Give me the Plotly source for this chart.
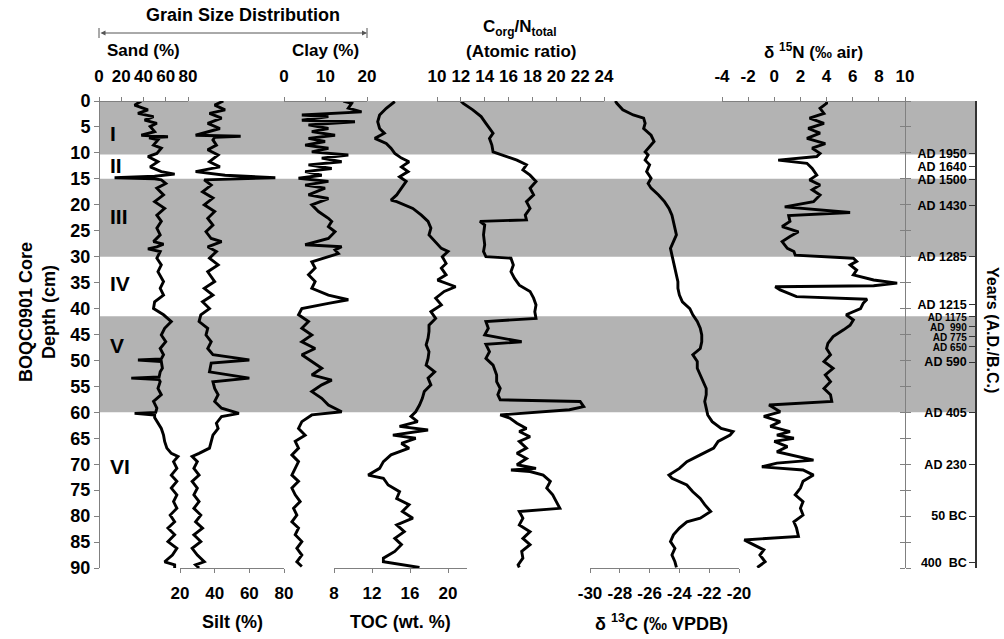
import plotly.graph_objects as go

# ---------------- data (depth in cm) ----------------
sand_depth = [0.0, 0.8, 1.7, 2.4, 3.0, 3.7, 4.3, 4.9, 5.9, 6.6, 6.9, 7.1, 7.5, 8.5, 9.1, 10.1, 10.7, 11.7, 12.7, 13.6,
              14.1, 14.5, 14.8, 15.0, 15.2, 15.9, 16.8, 18.1, 19.4, 20.7, 22.0, 23.2, 24.5, 25.8, 27.1, 27.6, 28.1, 28.5,
              29.0, 30.3, 31.6, 32.9, 34.8, 36.1, 37.4, 38.7, 40.0, 41.2, 42.5, 43.8, 45.1, 46.4, 47.7, 48.9, 49.7, 49.9,
              50.2, 51.5, 52.2, 53.2, 53.4, 53.7, 54.1, 55.4, 56.6, 57.9, 59.2, 60.0, 60.2, 60.5, 61.0, 62.1, 63.1, 64.4,
              65.6, 66.9, 67.9, 68.5, 69.5, 70.8, 72.1, 73.3, 74.6, 75.9, 77.2, 78.5, 79.8, 81.1, 82.3, 83.6, 84.9, 86.2,
              87.5, 88.8, 89.4, 90.0]
sand_pct = [38, 32, 44, 35, 49, 41, 52, 46, 50, 38, 62, 45, 53, 49, 56, 52, 44, 53, 46, 56,
            68, 50, 14, 50, 56, 60, 52, 58, 50, 59, 52, 56, 52, 55, 49, 58, 52, 44,
            55, 52, 56, 53, 58, 55, 58, 50, 49, 58, 65, 59, 56, 60, 55, 58, 56, 35,
            56, 57, 55, 54, 29, 54, 55, 53, 56, 49, 52, 51, 32, 50, 50, 53, 56, 58,
            59, 61, 65, 71, 67, 70, 65, 70, 65, 70, 67, 70, 64, 68, 62, 68, 62, 70,
            66, 59, 68, 68]

silt_depth = [0.0, 0.8, 1.7, 2.4, 3.3, 4.3, 5.3, 6.6, 6.8, 7.0, 7.5, 8.5, 9.4, 10.4, 11.7, 12.7, 13.6, 14.3, 14.8, 15.2,
              16.2, 17.5, 18.7, 20.0, 21.3, 22.6, 23.9, 25.2, 26.5, 27.1, 28.1, 29.0, 30.3, 31.6, 32.9, 34.8, 36.1, 37.4,
              38.7, 40.0, 41.2, 42.5, 43.8, 45.1, 46.4, 47.7, 48.9, 49.9, 50.5, 52.2, 53.4, 54.1, 55.4, 56.6, 57.9, 59.2,
              60.2, 60.8, 62.1, 63.1, 64.4, 65.6, 66.9, 67.9, 68.5, 69.5, 70.8, 72.1, 73.3, 74.6, 75.9, 77.2, 78.5, 79.8,
              81.1, 82.3, 83.6, 84.9, 86.2, 87.5, 88.8, 89.4, 90.0]
silt_pct = [45, 40, 46, 37, 44, 36, 43, 29, 55, 40, 39, 41, 36, 42, 37, 43, 29, 46, 75, 34,
            38, 33, 39, 34, 40, 36, 39, 35, 38, 44, 36, 41, 37, 42, 36, 40, 34, 39,
            33, 37, 32, 31, 36, 35, 38, 36, 39, 60, 38, 37, 60, 39, 40, 42, 40, 44,
            54, 44, 41, 42, 39, 38, 37, 31, 27, 30, 28, 31, 27, 30, 28, 31, 28, 32,
            29, 33, 28, 32, 27, 30, 34, 29, 31]

clay_depth = [0.0, 0.45, 1.4, 2.1, 2.7, 3.0, 3.7, 4.0, 4.6, 5.3, 5.9, 6.6, 7.2, 7.8, 8.5, 9.1, 9.8, 10.4, 11.0, 11.7,
              12.3, 13.0, 13.6, 14.3, 14.9, 15.5, 16.2, 16.8, 18.1, 18.8, 20.0, 21.3, 22.6, 23.2, 24.2, 25.2, 26.5, 27.7,
              28.1, 28.7, 29.4, 30.0, 31.0, 32.2, 33.5, 34.8, 36.1, 37.4, 38.3, 39.0, 40.0, 41.2, 42.5, 43.8, 45.1, 46.4,
              47.7, 48.9, 50.2, 51.5, 52.8, 53.8, 54.7, 56.0, 57.3, 58.6, 59.9, 60.5, 61.8, 63.1, 64.4, 65.6, 66.9, 68.2,
              69.5, 70.8, 72.1, 73.3, 74.6, 75.9, 77.2, 78.5, 79.8, 81.1, 82.3, 83.6, 84.9, 86.2, 87.5, 88.8, 89.7]
clay_pct = [14.3, 16.3, 15.5, 18.7, 4.3, 10.7, 4.3, 17.1, 5.9, 10.7, 6.7, 12.3, 5.9, 9.9, 5.1, 10.7, 6.7, 15.5, 9.1, 13.9,
            5.9, 11.5, 5.1, 9.1, 3.5, 10.7, 5.1, 9.9, 5.9, 10.7, 6.7, 8.3, 10.7, 11.5, 10.7, 12.3, 10.7, 5.1,
            13.9, 12.3, 13.1, 10.7, 6.7, 7.5, 5.9, 7.5, 6.7, 10.7, 15.5, 10.7, 4.3, 3.5, 5.9, 4.3, 6.7, 4.3,
            7.5, 4.3, 6.7, 9.1, 6.7, 11.5, 9.1, 6.7, 9.1, 10.7, 13.9, 6.7, 4.3, 3.5, 5.1, 2.7, 3.5, 1.9,
            3.5, 2.7, 1.9, 3.5, 1.9, 2.7, 3.9, 2.3, 3.1, 1.9, 3.5, 2.7, 4.3, 3.1, 4.3, 3.1, 4.3]

toc_depth = [0.1, 1.4, 2.7, 4.0, 5.3, 6.2, 7.2, 8.2, 9.1, 10.1, 11.0, 11.7, 12.7, 13.6, 14.6, 15.5, 16.8, 18.1, 19.1, 19.4,
             20.7, 22.0, 23.2, 24.5, 25.8, 27.1, 28.4, 29.0, 30.0, 31.3, 32.2, 33.5, 34.5, 35.8, 36.7, 38.0, 39.3, 40.6,
             41.9, 43.2, 44.4, 45.7, 47.0, 48.3, 49.6, 50.9, 52.2, 53.4, 54.7, 56.0, 57.3, 58.6, 59.9, 60.8, 61.8, 62.7,
             63.4, 64.4, 65.0, 66.0, 66.9, 68.2, 69.5, 70.8, 72.1, 72.7, 74.0, 75.3, 76.6, 77.8, 79.1, 80.4, 81.7, 83.0,
             84.3, 85.5, 86.8, 88.1, 88.8, 89.9]
toc_wt = [14.4, 13.5, 12.8, 12.6, 12.8, 13.3, 12.3, 13.5, 14.0, 14.4, 15.1, 15.9, 15.1, 15.8, 14.9, 15.6, 15.1, 14.6, 14.0, 14.6,
          16.3, 17.2, 17.9, 18.2, 18.0, 18.7, 19.3, 20.0, 19.4, 19.8, 19.3, 19.8, 18.9, 20.8, 19.6, 18.7, 19.3, 18.2,
          18.7, 18.0, 18.0, 17.9, 17.7, 18.0, 17.9, 17.7, 18.6, 17.9, 18.2, 17.5, 17.3, 17.0, 16.6, 16.1, 16.8, 14.9,
          17.9, 14.2, 16.6, 15.1, 15.9, 14.0, 13.2, 12.8, 11.6, 13.2, 13.7, 14.9, 14.6, 15.9, 15.2, 16.3, 14.6, 15.4,
          14.4, 15.1, 14.4, 13.2, 13.2, 17.0]

cn_depth = [0.0, 0.45, 1.7, 3.0, 4.3, 5.3, 6.2, 7.2, 8.5, 9.8, 10.7, 11.4, 12.3, 13.3, 14.3, 15.5, 16.8, 18.1, 19.4, 20.7,
            22.0, 22.9, 23.2, 23.9, 25.8, 27.7, 29.0, 30.0, 30.3, 31.6, 32.9, 34.2, 35.5, 36.7, 38.0, 39.3, 40.6, 41.9,
            42.5, 43.8, 45.1, 46.4, 46.9, 48.3, 49.6, 50.9, 52.8, 54.1, 55.4, 56.6, 57.6, 57.9, 58.9, 59.5, 60.5, 61.1,
            62.1, 63.1, 63.7, 64.7, 65.6, 66.9, 67.9, 68.9, 70.1, 70.8, 71.1, 71.4, 72.1, 73.3, 74.6, 75.9, 77.2, 78.5,
            79.1, 80.4, 81.7, 83.0, 84.3, 85.5, 86.8, 88.1, 89.4, 89.9]
cn_ratio = [12.0, 12.2, 13.0, 13.7, 14.1, 14.4, 14.7, 14.4, 14.6, 14.7, 15.8, 16.7, 17.5, 17.2, 17.8, 18.3, 17.8, 18.1, 17.5, 17.8,
            17.4, 17.5, 13.6, 14.0, 13.9, 14.0, 13.9, 14.1, 16.2, 16.4, 16.2, 16.5, 16.9, 17.8, 18.1, 18.3, 18.2, 18.3,
            14.1, 14.3, 14.0, 17.1, 14.1, 14.4, 14.1, 14.7, 15.0, 15.0, 15.3, 15.1, 15.3, 22.0, 22.3, 21.1, 15.3, 16.1,
            16.7, 17.5, 16.9, 17.8, 16.9, 17.5, 16.7, 17.5, 16.7, 18.3, 16.2, 17.8, 18.9, 19.5, 19.2, 19.7, 20.0, 20.3,
            16.9, 17.2, 16.9, 17.8, 17.2, 17.8, 17.1, 17.2, 16.8, 16.9]

d13c_depth = [0.0, 0.45, 1.7, 2.7, 3.3, 4.3, 5.3, 6.6, 7.8, 8.8, 9.8, 10.4, 11.4, 12.3, 13.6, 14.9, 15.9, 16.8, 18.1, 19.4,
              20.7, 22.0, 23.2, 24.5, 25.8, 27.1, 28.4, 29.7, 31.0, 32.2, 33.5, 34.8, 36.1, 37.4, 38.7, 40.0, 41.2, 42.5,
              43.8, 45.1, 46.4, 47.7, 48.9, 50.2, 51.5, 52.8, 54.1, 55.4, 56.6, 57.9, 59.2, 60.5, 61.8, 63.1, 63.7, 64.4,
              65.6, 66.9, 68.2, 69.5, 70.8, 72.1, 72.7, 74.0, 75.3, 76.6, 77.8, 79.1, 80.4, 81.1, 82.3, 83.6, 84.9, 86.2,
              87.5, 88.8, 89.9]
d13c_vpdb = [-28.3, -28.2, -27.8, -27.1, -26.4, -26.3, -26.4, -25.9, -25.7, -26.0, -26.3, -26.1, -26.3, -26.0, -26.2, -25.9,
             -26.1, -25.9, -25.4, -25.0, -24.7, -24.5, -24.4, -24.3, -24.2, -24.4, -24.6, -24.5, -24.4, -24.3, -24.2,
             -24.1, -24.1, -24.0, -23.8, -23.3, -23.1, -22.8, -22.6, -22.5, -22.5, -22.6, -23.1, -22.8, -22.8, -22.6,
             -22.4, -22.2, -22.2, -22.3, -22.2, -22.1, -21.8, -21.2, -20.4, -20.6, -21.4, -21.7, -22.6, -23.5, -24.0,
             -24.7, -24.5, -23.5, -23.1, -22.6, -22.3, -21.9, -22.6, -23.5, -24.0, -24.4, -24.6, -24.3, -24.5, -24.3,
             -24.2]

d15n_depth = [0.0, 0.45, 1.4, 2.4, 3.3, 4.3, 5.3, 6.2, 7.2, 8.2, 9.1, 10.1, 10.7, 11.4, 12.0, 13.0, 14.3, 15.2, 16.2, 17.1,
              18.1, 19.4, 20.4, 21.0, 21.5, 22.1, 23.2, 24.2, 25.2, 26.1, 27.1, 28.4, 29.0, 29.7, 30.3, 30.9, 31.6, 32.6,
              33.5, 34.5, 35.1, 35.6, 35.8, 36.4, 37.1, 37.7, 38.2, 39.0, 40.0, 41.2, 42.2, 43.2, 44.1, 45.4, 46.7, 47.7,
              48.9, 50.2, 51.5, 52.8, 54.1, 55.4, 56.6, 57.9, 58.6, 59.9, 60.8, 61.8, 62.7, 63.7, 64.4, 65.0, 65.6, 66.6,
              67.6, 68.5, 69.2, 69.8, 70.5, 71.1, 72.1, 73.3, 74.6, 75.9, 77.2, 78.5, 79.8, 81.1, 82.3, 83.9, 84.6, 85.5,
              86.5, 87.5, 88.8, 89.9]
d15n_air = [4.0, 4.0, 3.5, 3.8, 2.7, 3.8, 2.6, 3.5, 2.5, 3.9, 2.9, 3.5, 3.25, 0.3, 2.5, 2.9, 3.25, 2.7, 3.5, 2.9,
            3.5, 3.0, 0.8, 3.25, 5.8, 1.1, 1.2, 0.6, 1.85, 1.2, 0.6, 1.0, 1.5, 1.6, 6.05, 6.3, 5.8, 6.3,
            6.05, 7.6, 9.4, 7.6, 0.07, 0.45, 1.2, 1.7, 7.1, 6.8, 6.6, 5.5, 6.05, 5.8, 5.3, 4.5, 4.1, 4.0,
            4.3, 3.8, 4.5, 3.9, 4.3, 3.8, 4.3, 4.4, -0.4, 0.45, -0.8, 0.45, -0.3, 1.2, 0.2, 1.5, 0.0, 1.0,
            0.2, 1.7, 3.0, 0.2, -0.95, 2.2, 3.0, 2.2, 2.0, 1.6, 2.2, 2.0, 2.2, 1.5, 1.7, 1.85, -2.3, -1.6,
            -0.8, -1.1, -0.7, -1.3]

zone_tops = [0.0, 15.0, 41.5]
zone_bottoms = [10.3, 30.0, 60.0]
zone_names = ["I", "II", "III", "IV", "V", "VI"]
zone_label_depths = [6.2, 12.5, 22.2, 35.1, 47.2, 70.5]

age_depths = [10.1, 12.6, 15.1, 20.2, 30.0, 39.2, 41.6, 43.5, 45.4, 47.3, 50.3, 60.0, 70.0, 80.0, 89.0]
age_labels = ["AD 1950", "AD 1640", "AD 1500", "AD 1430", "AD 1285", "AD 1215", "AD 1175", "AD  990",
              "AD 775", "AD 650", "AD 590", "AD 405", "AD 230", "50 BC", "400  BC"]
age_small = [False, False, False, False, False, False, True, True, True, True, False, False, False, False, False]

d13c_ticks = [-30, -28, -26, -24, -22, -20]
d15n_ticks = [-4, -2, 0, 2, 4, 6, 8, 10]

# ---------------- layout helpers ----------------
W, H = 1004, 639


def px(p):
    return p / W


def py(p):
    return 1 - p / H


FAM = "Liberation Sans, Arial, Helvetica, sans-serif"


def fnt(s, c="black"):
    return dict(family=FAM, size=s, color=c, weight="bold")


AX = "#808080"
TOP_Y = 101
BOT_Y = 568

fig = go.Figure()

panels = [
    ("x", sand_depth, sand_pct),
    ("x2", silt_depth, silt_pct),
    ("x3", clay_depth, clay_pct),
    ("x4", toc_depth, toc_wt),
    ("x5", cn_depth, cn_ratio),
    ("x6", d13c_depth, d13c_vpdb),
    ("x7", d15n_depth, d15n_air),
]
for xa, d, v in panels:
    fig.add_trace(go.Scatter(x=v, y=d, xaxis=xa, yaxis="y", mode="lines",
                             line=dict(color="black", width=2.9), showlegend=False,
                             hoverinfo="skip"))

# helper (invisible) traces so that the extra depth axes get drawn
for ya in ["y2", "y3", "y4"]:
    fig.add_trace(go.Scatter(x=[40], y=[0], xaxis="x", yaxis=ya, mode="markers",
                             marker=dict(opacity=0), showlegend=False, hoverinfo="skip"))

xcommon = dict(showgrid=False, zeroline=False, showline=True, linecolor=AX, linewidth=1,
               ticks="outside", ticklen=4, tickcolor=AX, tickwidth=1, tickfont=fnt(17),
               tickangle=0, anchor="free", fixedrange=True)
top = dict(side="top", position=py(TOP_Y), ticklabelstandoff=8)
bot = dict(side="bottom", position=py(BOT_Y), ticklabelstandoff=6)

layout = dict(
    width=W, height=H, autosize=False,
    margin=dict(l=0, r=0, t=0, b=0),
    paper_bgcolor="white", plot_bgcolor="rgba(0,0,0,0)",
    template="none", showlegend=False,
    font=fnt(16),
    xaxis=dict(**xcommon, **top, domain=[px(99), px(188)], range=[0, 80], dtick=20),
    xaxis2=dict(**xcommon, **bot, domain=[px(180), px(284)], range=[20, 80], dtick=20),
    xaxis3=dict(**xcommon, **top, domain=[px(284), px(367)], range=[0, 20], dtick=10),
    xaxis4=dict(**xcommon, **bot, domain=[px(334), px(467)], range=[8, 22], tickvals=[8, 12, 16, 20]),
    xaxis5=dict(**xcommon, **top, domain=[px(437), px(604)], range=[10, 24], dtick=2),
    xaxis6=dict(**xcommon, **bot, domain=[px(590), px(739)], range=[-30, -20],
                tickmode="array", tickvals=d13c_ticks, ticktext=[str(t) for t in d13c_ticks]),
    xaxis7=dict(**xcommon, **top, domain=[px(722), px(905)], range=[-4, 10],
                tickmode="array", tickvals=d15n_ticks, ticktext=[str(t) for t in d15n_ticks]),
    yaxis=dict(domain=[py(BOT_Y), py(TOP_Y)], range=[90, 0], dtick=5, anchor="free", position=px(99),
               side="left", showgrid=False, zeroline=False, showline=True, linecolor=AX, linewidth=1,
               ticks="outside", ticklen=5, tickcolor=AX, tickfont=fnt(18), fixedrange=True),
    yaxis2=dict(overlaying="y", range=[90, 0], dtick=5, anchor="free", position=px(905), side="right",
                showgrid=False, zeroline=False, showline=True, linecolor=AX, linewidth=1,
                ticks="outside", ticklen=5, tickcolor=AX, showticklabels=False, fixedrange=True),
    yaxis3=dict(overlaying="y", range=[90, 0], dtick=5, anchor="free", position=px(905), side="left",
                showgrid=False, zeroline=False, showline=True, linecolor=AX, linewidth=1,
                ticks="outside", ticklen=5, tickcolor=AX, showticklabels=False, fixedrange=True),
    yaxis4=dict(overlaying="y", range=[90, 0], anchor="free", position=px(976), side="left",
                tickmode="array", tickvals=age_depths,
                ticktext=[('<span style="font-size:10px">%s</span>' % t) if s else t
                          for t, s in zip(age_labels, age_small)],
                showgrid=False, zeroline=False, showline=True, linecolor="#333333", linewidth=1.5,
                ticks="outside", ticklen=6, tickcolor="#333333", tickfont=fnt(12.5), fixedrange=True),
)
fig.update_layout(**layout)

# zone bands
for t, b in zip(zone_tops, zone_bottoms):
    fig.add_shape(type="rect", xref="paper", yref="y", x0=px(99), x1=px(976), y0=t, y1=b,
                  fillcolor="#b3b3b3", line=dict(width=0), layer="below")

# zone labels
for name, dep in zip(zone_names, zone_label_depths):
    fig.add_annotation(text=name, xref="paper", yref="y", x=px(108), y=dep, xanchor="left",
                       yanchor="middle", showarrow=False, font=fnt(21))


def label(text, x, y, size=18, angle=0):
    fig.add_annotation(text=text, xref="paper", yref="paper", x=px(x), y=py(y), xanchor="center",
                       yanchor="middle", showarrow=False, font=fnt(size), textangle=angle)


label("Grain Size Distribution", 243, 15)
label("Sand (%)", 143, 50, 17)
label("Clay (%)", 325, 50, 17)
label("C<sub>org</sub>/N<sub>total</sub>", 520, 28, 17)
label("(Atomic ratio)", 521, 51, 17)
label("\u03b4 <sup>15</sup>N (\u2030 air)", 813, 51, 17)
label("Silt (%)", 232, 622)
label("TOC (wt. %)", 400, 622)
label("\u03b4 <sup>13</sup>C (\u2030 VPDB)", 661, 622)
label("BOQC0901 Core<br>Depth (cm)", 38, 312, 18, -90)
label("Years (A.D./B.C.)", 993, 330, 16, 90)

# double-headed arrow for the grain-size group
fig.add_annotation(text="", xref="paper", yref="paper", x=px(367), y=py(33), ax=-268, ay=0,
                   axref="pixel", ayref="pixel", showarrow=True, arrowhead=2, arrowside="end+start",
                   arrowsize=1, arrowwidth=1, arrowcolor="#555555")
for xe in (99, 367):
    fig.add_shape(type="line", xref="paper", yref="paper", x0=px(xe), x1=px(xe), y0=py(28), y1=py(38),
                  line=dict(color="#555555", width=1))

fig.write_html("out.html")
